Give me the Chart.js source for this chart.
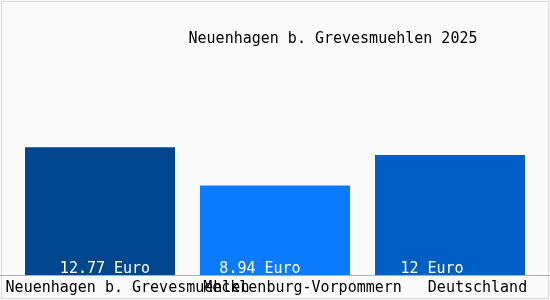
<!DOCTYPE html>
<html>
<head>
<meta charset="utf-8">
<script src="https://cdn.jsdelivr.net/npm/chart.js@4/dist/chart.umd.min.js"></script>
<style>
  html, body { margin: 0; padding: 0; background: #fafafa; }
  canvas { display: block; }
</style>
</head>
<body>
<canvas id="c" width="550" height="300"></canvas>
<script>
const titleText = "Neuenhagen b. Grevesmuehlen 2025";
const categories = ["Neuenhagen b. Grevesmuehlen", "Mecklenburg-Vorpommern", "Deutschland"];
const values = [12.77, 8.94, 12];
const valueLabels = ["12.77 Euro", "8.94 Euro", "12 Euro"];
const barColors = ["#00478f", "#0a7bfc", "#005ec4"];

const FONT = '"DejaVu Sans Mono", monospace';

const decor = {
  id: 'decor',
  beforeDraw(chart) {
    const ctx = chart.ctx;
    ctx.save();
    ctx.fillStyle = '#fafafa';
    ctx.fillRect(0, 0, chart.width, chart.height);
    ctx.strokeStyle = '#dddddd';
    ctx.lineWidth = 1;
    ctx.strokeRect(1.5, 1.5, chart.width - 3, chart.height - 3);
    ctx.restore();
  },
  afterDatasetsDraw(chart) {
    const ctx = chart.ctx;
    const meta = chart.getDatasetMeta(0);
    const dx = [5, -15, -18];
    ctx.save();
    ctx.font = '15px ' + FONT;
    ctx.fillStyle = '#ffffff';
    ctx.textAlign = 'center';
    ctx.textBaseline = 'alphabetic';
    meta.data.forEach((bar, i) => {
      ctx.fillText(valueLabels[i], bar.x + dx[i], chart.chartArea.bottom - 2);
    });
    // baseline line across full width
    ctx.strokeStyle = '#b0b0b0';
    ctx.lineWidth = 1;
    ctx.beginPath();
    const y = Math.round(chart.scales.y.getPixelForValue(0)) + 0.5;
    ctx.moveTo(0, y);
    ctx.lineTo(chart.width, y);
    ctx.stroke();
    // title
    ctx.font = '15px ' + FONT;
    ctx.fillStyle = '#000000';
    ctx.textAlign = 'center';
    ctx.fillText(titleText, 333, 43);
    ctx.restore();
  }
};

new Chart(document.getElementById('c'), {
  type: 'bar',
  data: {
    labels: categories,
    datasets: [{
      data: values,
      backgroundColor: barColors,
      borderWidth: 0,
      barPercentage: 150 / 175,
      categoryPercentage: 1
    }]
  },
  options: {
    responsive: false,
    animation: false,
    events: [],
    layout: { padding: { left: 12.5, right: 12.5, top: 25, bottom: 0 } },
    plugins: { legend: { display: false }, tooltip: { enabled: false }, title: { display: false } },
    scales: {
      x: {
        grid: { display: false, drawTicks: false },
        border: { display: false },
        ticks: {
          color: '#000000',
          font: { family: FONT, size: 15 },
          padding: 4,
          labelOffset: 27.5,
          maxRotation: 0,
          autoSkip: false
        },
        afterFit(scale) {
          scale.paddingLeft = 0;
          scale.paddingRight = 0;
          scale.height = 25;
        }
      },
      y: {
        display: false,
        min: 0,
        max: 25
      }
    }
  },
  plugins: [decor]
});
</script>
</body>
</html>
